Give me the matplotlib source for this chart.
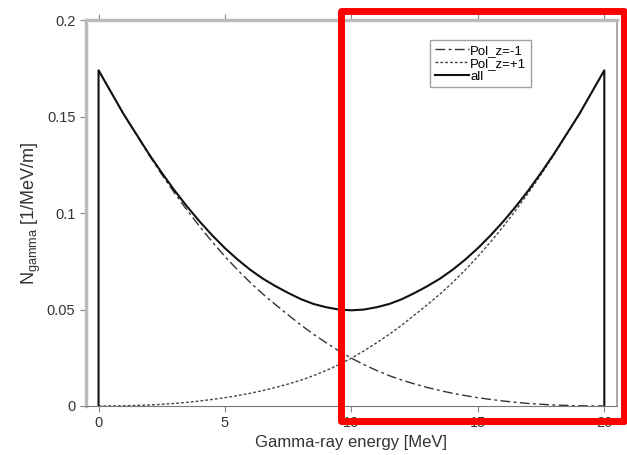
import numpy as np
import matplotlib
matplotlib.use("Agg")
import matplotlib.pyplot as plt
from matplotlib.patches import Rectangle
from matplotlib.ticker import FuncFormatter

plt.rcParams['font.family'] = ['Liberation Sans', 'DejaVu Sans']

# photon energy grid [MeV], 0.5 MeV steps
energy = np.arange(0, 20.5, 0.5)

# spectrum for helicity -1 (falls from 0 to 20 MeV)
pol_minus = [0.174, 0.1625, 0.151, 0.1405, 0.130, 0.1200, 0.1105, 0.1015,
             0.0930, 0.0850, 0.0775, 0.0705, 0.0640, 0.0580, 0.0525, 0.0472,
             0.0420, 0.0372, 0.0328, 0.0286, 0.0248, 0.0214, 0.0184, 0.0157,
             0.0134, 0.0114, 0.0096, 0.0080, 0.0066, 0.0054, 0.0043, 0.0034,
             0.0026, 0.0019, 0.0013, 0.0009, 0.0005, 0.0003, 0.0001, 0.00003,
             0.0]
# helicity +1 is the mirror image
pol_plus = pol_minus[::-1]

x_ticks = [0, 5, 10, 15, 20]
y_ticks = [0, 0.05, 0.1, 0.15, 0.2]

total = np.array(pol_minus) + np.array(pol_plus)
# spectrum edges drop straight to zero
e_all = np.concatenate([[energy[0]], energy, [energy[-1]]])
n_all = np.concatenate([[0], total, [0]])

fig = plt.figure(figsize=(6.27, 4.55), dpi=100)
ax = fig.add_axes([0.137, 0.1077, 0.847, 0.848])

ax.plot(energy, pol_minus, color='#333333', lw=1.0, dashes=(7, 2.5, 2, 2.5),
        label='Pol_z=-1')
ax.plot(energy, pol_plus, color='#444444', lw=1.0, dashes=(2, 1.5),
        label='Pol_z=+1')
ax.plot(e_all, n_all, color='#111111', lw=1.5, label='all')

ax.set_xlim(-0.5, 20.5)
ax.set_ylim(0, 0.2)
ax.set_xticks(x_ticks)
ax.set_yticks(y_ticks)
ax.yaxis.set_major_formatter(FuncFormatter(lambda v, p: '%g' % v))
ax.tick_params(axis='both', direction='out', length=4, width=0.8,
               color='#888888', labelsize=10.5, labelcolor='#333333')
ax.tick_params(axis='x', top=True)

for side in ['left', 'top']:
    ax.spines[side].set_color('#bbbbbb')
    ax.spines[side].set_linewidth(2.5)
ax.spines['right'].set_color('#999999')
ax.spines['right'].set_linewidth(1.2)
ax.spines['bottom'].set_color('#777777')
ax.spines['bottom'].set_linewidth(0.8)

ax.set_xlabel('Gamma-ray energy [MeV]', fontsize=12, color='#333333',
              labelpad=3)
ax.set_ylabel(r'N$_{\mathregular{gamma}}$ [1/MeV/m]', fontsize=13,
              color='#333333', labelpad=3)

leg = ax.legend(loc='upper left', bbox_to_anchor=(0.648, 0.948),
                fontsize=9.5, frameon=True, fancybox=False,
                handlelength=2.6, handletextpad=0.1, labelspacing=0.05,
                borderpad=0.35, borderaxespad=0)
leg.get_frame().set_edgecolor('#888888')
leg.get_frame().set_linewidth(1.0)

# red highlight box
fig.add_artist(Rectangle((0.544, 0.0747), 0.451, 0.901,
                         transform=fig.transFigure, fill=False,
                         edgecolor='red', lw=5, joinstyle='round',
                         zorder=10))

fig.savefig('out.png', dpi=100)
